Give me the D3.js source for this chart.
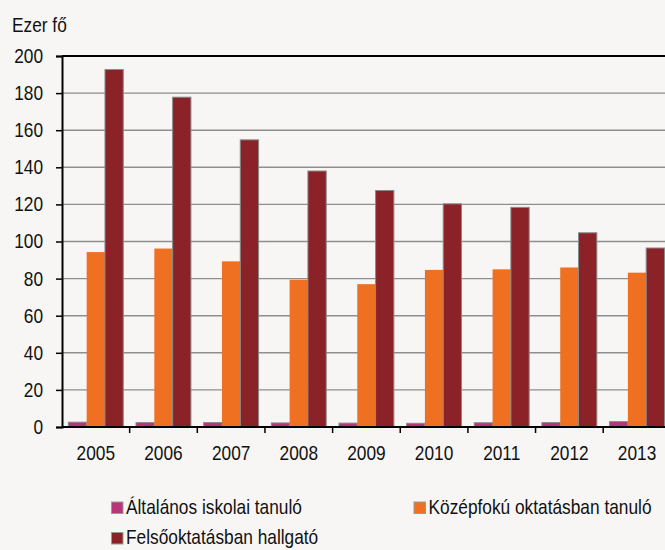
<!DOCTYPE html>
<html><head><meta charset="utf-8">
<script src="https://cdn.jsdelivr.net/npm/d3@7"></script>
<style>html,body{margin:0;padding:0;background:#f7f6f4;}svg{display:block;font-family:"Liberation Sans",Arial,sans-serif;}</style>
</head><body>
<script>
const years = ["2005","2006","2007","2008","2009","2010","2011","2012","2013"];
const seriesNames = ["Általános iskolai tanuló","Középfokú oktatásban tanuló","Felsőoktatásban hallgató"];
const altalanos = [2.6,2.4,2.4,2.2,2.1,2.0,2.3,2.4,2.9];
const kozepfoku = [94.3,96.2,89.3,79.4,77.0,84.7,85.0,86.0,83.2];
const felso = [192.7,177.8,154.8,138.0,127.5,120.3,118.4,104.7,96.5];
const yTicks = [0,20,40,60,80,100,120,140,160,180,200];
const colors = ["#b8357a","#f07022","#8b2227"];
const unitLabel = "Ezer fő";

const W=665,H=550, FS=20, SX=0.865;
const svg=d3.select("body").append("svg").attr("width",W).attr("height",H);
svg.append("rect").attr("width",W).attr("height",H).attr("fill","#f7f6f4");

const x0=62, band=67.65;
const x=d3.scaleBand().domain(years).range([x0,x0+band*years.length]).padding(0);
const y=d3.scaleLinear().domain([0,200]).range([427,56]);
const bw=18.3, off=(x.bandwidth()-3*bw)/2;

// gridlines
svg.append("g").selectAll("line").data(yTicks.filter(t=>t>0&&t<200)).join("line")
  .attr("x1",x0).attr("x2",W).attr("y1",d=>y(d)).attr("y2",d=>y(d))
  .attr("stroke","#8e8e8e").attr("stroke-width",1.4);
// top border line
svg.append("line").attr("x1",x0).attr("x2",W).attr("y1",y(200)).attr("y2",y(200)).attr("stroke","#000").attr("stroke-width",2);

const series=[altalanos,kozepfoku,felso];
series.forEach((vals,si)=>{
  svg.append("g").selectAll("rect").data(vals).join("rect")
    .attr("x",(d,i)=>x(years[i])+off+si*bw)
    .attr("y",d=>y(d))
    .attr("width",bw)
    .attr("height",d=>y(0)-y(d))
    .attr("fill",colors[si])
    .attr("stroke",si===1?"none":"#8a8a8a")
    .attr("stroke-width",1);
});

// y axis
const ya=svg.append("g").attr("transform",`translate(${x0},0)`)
  .call(d3.axisLeft(y).tickValues(yTicks).tickSize(6).tickPadding(13).tickFormat(d3.format("d")));
ya.select(".domain").attr("stroke","#000").attr("stroke-width",2);
ya.selectAll(".tick line").attr("stroke","#000").attr("stroke-width",1.5);
ya.selectAll(".tick text").attr("font-size",FS).attr("fill","#111")
  .attr("font-family","Liberation Sans, Arial, sans-serif")
  .attr("x",-19/SX).attr("transform",`scale(${SX},1)`);

// x axis
const xa=svg.append("g").attr("transform",`translate(0,${y(0)})`)
  .call(d3.axisBottom(x).tickSize(0).tickPadding(18.5));
xa.select(".domain").remove();
svg.append("line").attr("x1",x0).attr("x2",W).attr("y1",y(0)).attr("y2",y(0)).attr("stroke","#000").attr("stroke-width",2);
xa.selectAll(".tick text").attr("font-size",FS).attr("fill","#111")
  .attr("font-family","Liberation Sans, Arial, sans-serif")
  .attr("transform",`scale(${SX},1)`);
svg.append("g").selectAll("line").data(years.slice(1)).join("line")
  .attr("x1",d=>x(d)).attr("x2",d=>x(d)).attr("y1",y(0)).attr("y2",y(0)+6)
  .attr("stroke","#000").attr("stroke-width",1.5);

// unit label
svg.append("text").attr("transform",`translate(12,31.5) scale(${SX},1)`)
  .attr("font-size",FS).attr("fill","#111").text(unitLabel);

// legend
const legPos=[[111.5,513.5],[414,513.5],[111.5,544]];
seriesNames.forEach((n,i)=>{
  const g=svg.append("g").attr("transform",`translate(${legPos[i][0]},${legPos[i][1]})`);
  g.append("rect").attr("x",0).attr("y",-11.5).attr("width",11.5).attr("height",11.5)
   .attr("fill",colors[i]).attr("stroke","#9a9a9a").attr("stroke-width",1);
  g.append("text").attr("transform",`translate(14.5,0) scale(${SX},1)`)
   .attr("font-size",FS).attr("fill","#111").text(n);
});
</script>
</body></html>
